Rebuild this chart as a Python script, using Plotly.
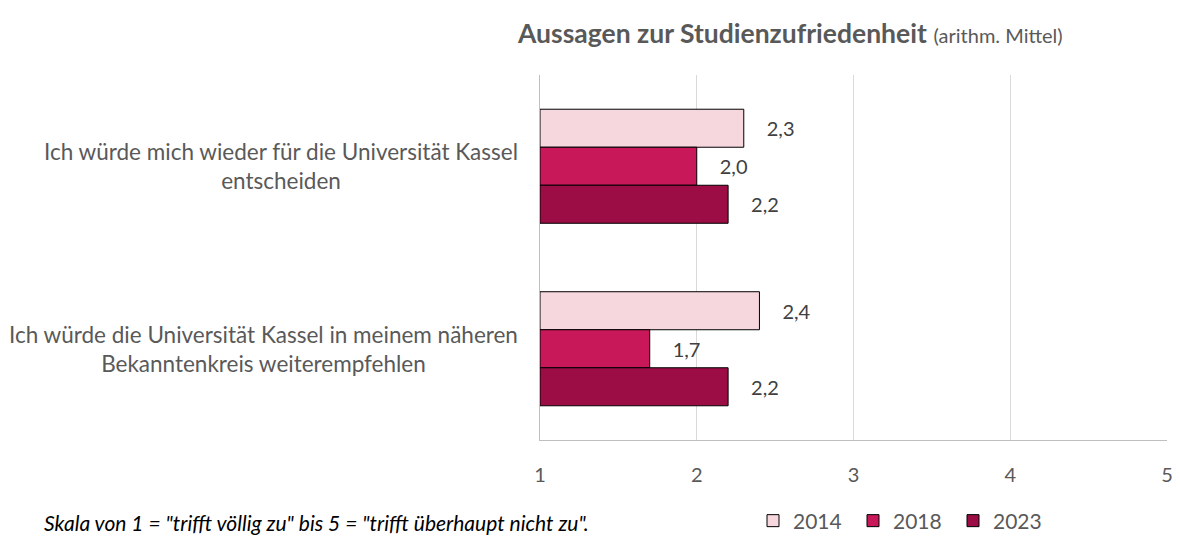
import plotly.graph_objects as go

categories = ["Ich würde mich wieder für die Universität Kassel<br>entscheiden",
              "Ich würde die Universität Kassel in meinem näheren<br>Bekanntenkreis weiterempfehlen"]
years = ["2014", "2018", "2023"]
values = {
    "2014": [2.3, 2.4],
    "2018": [2.0, 1.7],
    "2023": [2.2, 2.2],
}
colors = {"2014": "#F5D7DD", "2018": "#C8185A", "2023": "#9B0D44"}
x_ticks = [1, 2, 3, 4, 5]

OFF = 8  # page body margin
W, H = 1180 - OFF, 540 - OFF
L, R, T, B = 540 - OFF, 13, 75 - OFF, 100
PW, PH = W - L - R, H - T - B
FONT = "Lato"


def xp(px):
    return (px - OFF - L) / PW


def yp(py):
    return ((H - B) - (py - OFF)) / PH


fig = go.Figure()
for yr in years:
    fig.add_trace(go.Bar(
        y=list(range(len(categories))), x=[v - 1 for v in values[yr]], base=1,
        orientation="h", name=yr,
        marker=dict(color=colors[yr], line=dict(color="#000000", width=1)),
        text=["\u2002\u2002" + f"{v:.1f}".replace(".", ",") for v in values[yr]],
        textposition="outside", cliponaxis=False,
        textfont=dict(family=FONT, size=20, color="#404040"),
        hoverinfo="skip",
    ))

fig.update_layout(
    width=W, height=H,
    margin=dict(l=L, r=R, t=T, b=B, autoexpand=False),
    barmode="group", bargap=0.375, bargroupgap=0,
    plot_bgcolor="white", paper_bgcolor="white",
    font=dict(family=FONT, color="#595959"),
    separators=",.",
    xaxis=dict(range=[1, 5], tickvals=x_ticks, ticktext=[str(t) for t in x_ticks],
               showgrid=True, gridcolor="#D9D9D9", gridwidth=1,
               showline=True, linecolor="#BFBFBF", linewidth=1,
               zeroline=False, ticks="", ticklabelstandoff=17,
               tickfont=dict(family=FONT, size=20, color="#595959")),
    yaxis=dict(range=[1.5, -0.5], showticklabels=False, showgrid=False,
               showline=True, linecolor="#BFBFBF", linewidth=1, zeroline=False),
    legend=dict(orientation="h", x=xp(753), xanchor="left",
                y=yp(521), yanchor="middle",
                font=dict(family=FONT, size=21, color="#595959"),
                itemwidth=30, entrywidth=55, entrywidthmode="pixels",
                tracegroupgap=0, bgcolor="rgba(0,0,0,0)"),
    showlegend=True,
)

# Title
fig.add_annotation(
    xref="paper", yref="paper",
    x=xp(790), y=yp(33),
    text="<b>Aussagen zur Studienzufriedenheit</b> <span style='font-size:20px'>(arithm. Mittel)</span>",
    showarrow=False, xanchor="center", yanchor="middle",
    font=dict(family=FONT, size=26.5, color="#595959"),
)

# Category labels
for i, cat in enumerate(categories):
    fig.add_annotation(
        xref="paper", yref="y",
        x=xp(520), y=i,
        text=cat, showarrow=False, xanchor="right", yanchor="middle", align="center",
        font=dict(family=FONT, size=22.5, color="#595959"),
    )

# Footnote
fig.add_annotation(
    xref="paper", yref="paper",
    x=xp(42), y=yp(522),
    text="<i>Skala von 1 = \"trifft völlig zu\" bis 5 = \"trifft überhaupt nicht zu\".</i>",
    showarrow=False, xanchor="left", yanchor="middle",
    font=dict(family=FONT, size=21, color="#000000"),
)

fig.write_html("out.html")
